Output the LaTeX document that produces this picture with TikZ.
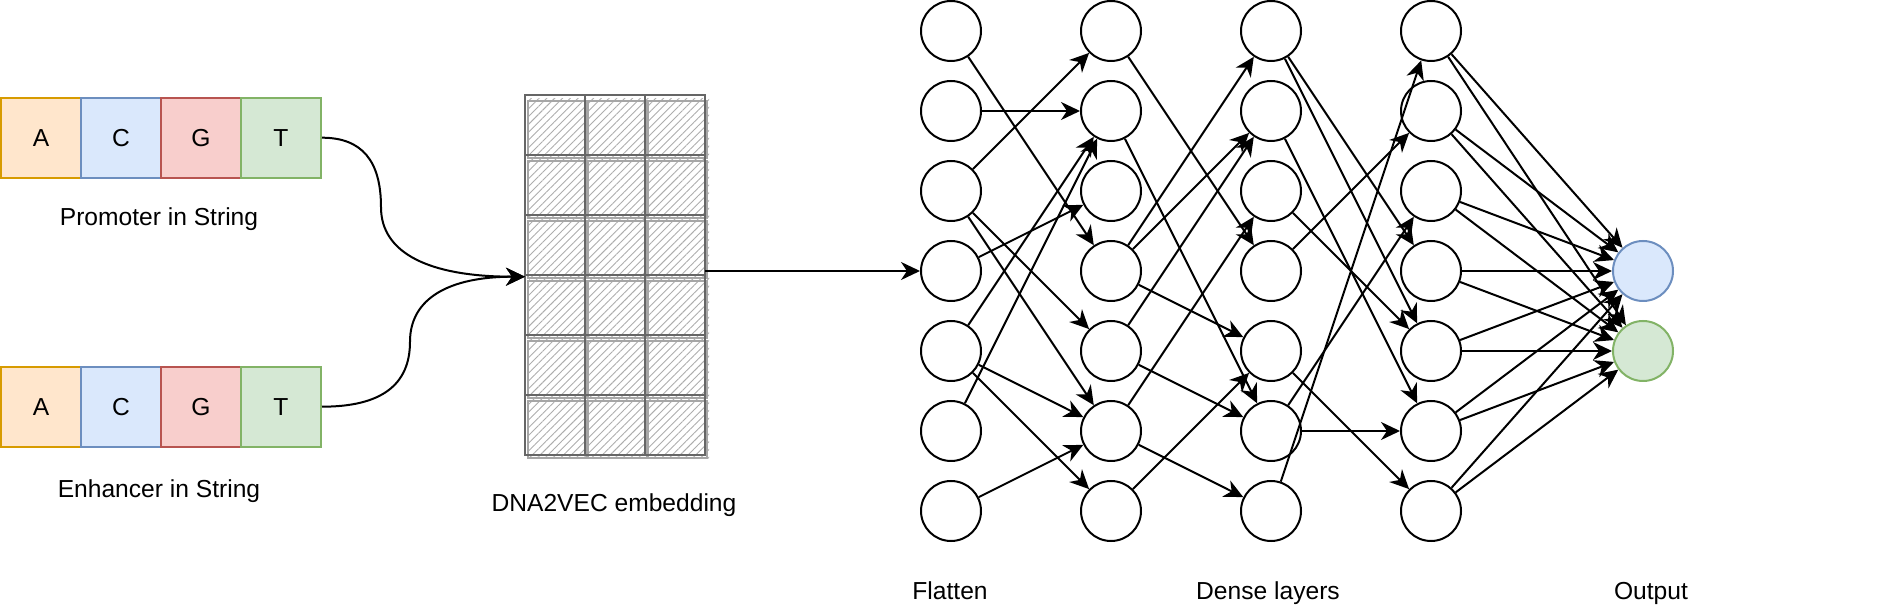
\documentclass[tikz,border=0pt]{standalone}
\usepackage{fontspec}
\setmainfont{Liberation Sans}
\usetikzlibrary{arrows.meta,patterns.meta}
\definecolor{aFill}{HTML}{FFE6CC}\definecolor{aLine}{HTML}{D79B00}
\definecolor{cFill}{HTML}{DAE8FC}\definecolor{cLine}{HTML}{6C8EBF}
\definecolor{gFill}{HTML}{F8CECC}\definecolor{gLine}{HTML}{B85450}
\definecolor{tFill}{HTML}{D5E8D4}\definecolor{tLine}{HTML}{82B366}
\definecolor{sketch}{HTML}{666666}
\begin{document}
\begin{tikzpicture}[x=0.5pt,y=-0.5pt,
  nt/.style={draw=#1Line, fill=#1Fill, line width=1pt, minimum width=40pt, minimum height=40pt, inner sep=0pt, font=\fontsize{12.3}{14}\selectfont},
  neuron/.style={circle, draw=black, fill=white, line width=1pt, minimum size=30pt, inner sep=0pt},
  outn/.style={circle, draw=#1Line, fill=#1Fill, line width=1pt, minimum size=30pt, inner sep=0pt},
  lbl/.style={font=\fontsize{12.3}{14}\selectfont, inner sep=0pt, text height=9pt, text depth=2.5pt},
  link/.style={line width=1pt, -{Stealth[length=9.5pt,width=9pt,inset=3pt]}},
  cell/.style={draw=sketch, line width=1.1pt, minimum size=30pt, inner sep=0pt},
  hatch/.style={pattern={Lines[angle=45,distance=2.75pt,line width=0.45pt]}, pattern color=black!32},
]
\useasboundingbox (0,0) rectangle (1902,614);

% nucleotide strings
\node[nt=a] (a1) at (41,137.7) {A};
\node[nt=c] (c1) at (121,137.7) {C};
\node[nt=g] (g1) at (201,137.7) {G};
\node[nt=t] (t1) at (281,137.7) {T};
\node[nt=a] (a2) at (41,406.7) {A};
\node[nt=c] (c2) at (121,406.7) {C};
\node[nt=g] (g2) at (201,406.7) {G};
\node[nt=t] (t2) at (281,406.7) {T};
\node[lbl] (lp) at (159,219) {Promoter in String};
\node[lbl] (le) at (159,491) {Enhancer in String};

% embedding grid (sketch style)
\foreach \i in {0,...,5}{
  \foreach \j in {0,1,2}{
    \pgfmathsetmacro\cx{555+60*\j}
    \pgfmathsetmacro\cy{125+60*\i}
    \fill[hatch] (\cx-26,\cy-26) rectangle (\cx+34,\cy+34);
    \draw[black!35, line width=0.6pt] (\cx-27,\cy-24) rectangle (\cx+32,\cy+33);
  }
}
\foreach \i in {0,...,5}{
  \foreach \j in {0,1,2}{
    \pgfmathsetmacro\cx{555+60*\j}
    \pgfmathsetmacro\cy{125+60*\i}
    \node[cell] (e\i\j) at (\cx,\cy) {};
  }
}
\coordinate (embin) at (525,276.7);
\coordinate (embout) at (705,271);
\node[lbl] (ld) at (614,505) {DNA2VEC embedding};

% neurons
\foreach \c/\x in {1/951,2/1111,3/1271,4/1431}{
  \foreach \r in {1,...,7}{
    \node[neuron] (n\c\r) at (\x,{31+80*(\r-1)}) {};
  }
}
\node[outn=c] (o1) at (1643,271) {};
\node[outn=t] (o2) at (1643,351) {};

\node[lbl] (lf) at (950,593) {Flatten};
\node[lbl] (ldl) at (1268,593) {Dense layers};
\node[lbl] (lo) at (1651,593) {Output};

% connectors
\coordinate (k1) at (381,207.2);
\coordinate (k2) at (410,341.7);
\draw[link] (t1.east) .. controls +(40,0) and +(0,-46.3) .. (k1) .. controls +(0,46.3) and +(-95.3,0) .. (embin);
\draw[link] (t2.east) .. controls +(59.3,0) and +(0,43.3) .. (k2) .. controls +(0,-43.3) and +(-76,0) .. (embin);
\draw[link] (embout) -- (n14);

\foreach \s/\t in {1/4,2/2,3/1,3/5,3/6,4/3,5/2,5/6,5/7,6/2,7/6}{
  \draw[link] (n1\s) -- (n2\t);
}
\foreach \s/\t in {1/4,2/6,4/1,4/2,4/5,5/2,5/6,6/3,6/7,7/5}{
  \draw[link] (n2\s) -- (n3\t);
}
\foreach \s/\t in {1/4,1/5,2/6,3/5,4/2,5/7,6/3,6/6,7/1}{
  \draw[link] (n3\s) -- (n4\t);
}
\foreach \s in {1,...,7}{
  \draw[link] (n4\s) -- (o1);
  \draw[link] (n4\s) -- (o2);
}
\end{tikzpicture}
\end{document}
